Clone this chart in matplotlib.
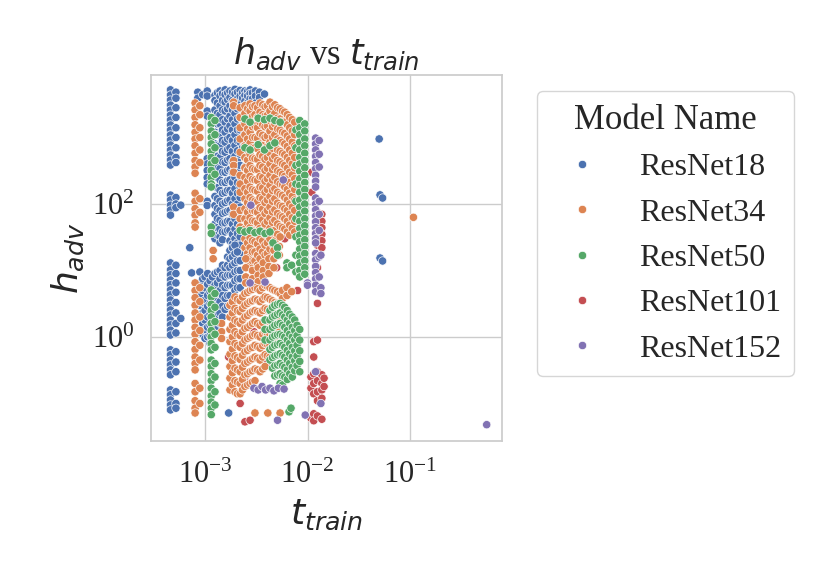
import numpy as np
import pandas as pd
import seaborn as sns
from matplotlib import pyplot as plt

model_names = ['ResNet18', 'ResNet34', 'ResNet50', 'ResNet101', 'ResNet152']

# columns of (t_train, [h_adv ...])
r18_cols = [
    (4.6e-4, [5200, 4350, 3650, 3070, 2580, 2170, 1830, 1540, 1290, 1090, 915, 770, 645, 545, 457, 385,
              136, 115, 96, 81, 68,
              13, 10.2, 8.6, 7.2, 6.1, 5.1, 4.3, 3.6, 3.0, 2.55, 2.14, 1.8, 1.52, 1.27, 1.07,
              0.64, 0.54, 0.45, 0.38, 0.32, 0.27, 0.16, 0.135, 0.113, 0.095, 0.080]),
    (5.2e-4, [4800, 3900, 2800, 2000, 1400, 1000, 700, 500, 420, 125, 100, 88,
              12, 9, 6.5, 4.7, 3.3, 2.3, 1.6, 1.15, 0.6, 0.42, 0.3, 0.15, 0.1, 0.085]),
    (5.8e-4, [96, 1.9]),
    (7.1e-4, [22]),
    (7.4e-4, [9.2]),
    (8.5e-4, [4800, 3900]),
    (9.5e-4, [4400]),
    (1.05e-3, [5000, 4200, 2500, 2100, 480, 400, 320, 250, 200, 110, 95]),
    (1.25e-3, [4300, 3600, 2600, 1800, 1200, 800, 550, 380, 260, 180, 130, 95, 70, 50, 38, 30]),
    (1.32e-3, [4700, 3300, 2300, 1600, 1100, 760, 520, 360, 250, 175, 120, 85, 60, 44, 34]),
    (1.4e-3, [5000, 4200, 3000, 2200, 1600, 1100, 750, 500, 340, 230, 160, 110, 80, 57, 42, 32, 26]),
    (1.48e-3, [4600, 3600, 2600, 1850, 1300, 900, 620, 430, 300, 210, 145, 100, 72, 52, 38, 29]),
    (1.57e-3, [5200, 4400, 3400, 2500, 1700, 1200, 850, 600, 420, 300, 210, 150, 105, 75, 52, 38]),
    (1.66e-3, [4700, 3700, 2700, 1900, 1350, 950, 660, 460, 320, 225, 160, 112, 78, 55, 40]),
    (1.75e-3, [5000, 4000, 3000, 2100, 1500, 1000, 700, 480, 330, 230, 160, 115, 80, 55, 40, 28]),
    (1.85e-3, [4800, 3600, 2600, 1850, 1300, 900, 620, 430, 300, 210, 145, 100, 70, 50, 35, 25]),
    (1.96e-3, [5300, 4500, 3300, 2300, 1600, 1100, 760, 520, 360, 250, 170, 120, 85, 60, 42, 30, 22, 17]),
    (2.07e-3, [4800, 3800, 2700, 1900, 1300, 900, 630, 440, 300, 210, 145, 100, 72, 50, 36, 26, 19]),
    (2.2e-3, [5100, 4200, 3100, 2000, 1300, 850, 560, 380, 260, 180, 125, 90, 62, 45, 32, 24, 18, 14]),
    (2.32e-3, [4700, 3900, 2900, 2100, 1500, 1000, 700]),
    (2.45e-3, [5000, 4300, 3500, 2600, 1800, 1200, 800, 540, 360]),
    (2.6e-3, [4900, 4200, 3300, 2400]),
    (2.75e-3, [5200, 4600, 3800, 2900, 2000]),
    (2.9e-3, [4700, 3800]),
    (3.1e-3, [5000, 4200, 3300]),
    (3.4e-3, [4800, 4000]),
    (3.8e-3, [4500]),
    (8.9e-4, [9.5, 6.5, 4.3, 3.0, 2.2]),
    (9.5e-4, [7.5, 5.0, 3.3, 2.3, 1.6, 1.1]),
    (1.0e-3, [8.0, 5.5, 3.6, 2.5, 1.8, 1.3, 0.95]),
    (1.06e-3, [9.0, 6.2, 4.2, 2.9, 2.0, 1.4, 1.0]),
    (1.12e-3, [7.0, 4.8, 3.2, 2.2, 1.5, 1.05, 0.8]),
    (1.18e-3, [8.0, 5.5, 3.7, 2.5, 1.7, 1.2]),
    (1.25e-3, [9.0, 6.0, 4.0, 2.7, 1.9, 1.3]),
    (1.32e-3, [9.5, 6.5, 4.5, 3.0, 2.1, 1.45]),
    (1.4e-3, [10, 7.5, 5.0, 3.4, 2.3, 1.6]),
    (1.48e-3, [12, 8.5, 6.0, 4.2, 2.9, 2.0]),
    (1.57e-3, [11, 8.0, 5.5, 3.8, 2.6]),
    (1.66e-3, [16, 12, 8.5, 6.0, 4.2, 2.9]),
    (1.75e-3, [20, 15, 11, 8.5, 6.0, 4.2, 3.0]),
    (1.85e-3, [22, 16, 12, 8.5, 6.0]),
    (1.96e-3, [24, 18, 13, 9.5, 7.0, 5.0]),
    (2.07e-3, [19, 14, 10, 7.5, 5.5]),
    (2.2e-3, [14, 10, 7.5, 5.5]),
    (1.7e-3, [0.072]),
    (0.050, [950]),
    (0.051, [137, 15.4]),
    (0.054, [123, 13.9]),
]

r34_cols = [
    (8.0e-4, [3300, 2600, 2000, 1550, 1200, 950, 750, 580, 450, 360, 290, 145, 110, 85, 68, 52, 45,
              6.5, 5.0, 3.9, 3.0, 2.3, 1.8, 1.4, 1.1, 0.85, 0.65, 0.5, 0.4, 0.32,
              0.2, 0.15, 0.11, 0.085, 0.072]),
    (8.9e-4, [3000, 2200, 1400, 1000, 650, 420, 120, 75, 5.5, 3.4, 2.0, 1.25, 0.75, 0.45, 0.17, 0.1]),
    (1.2e-3, [20, 15]),
    (1.45e-3, [1.6, 1.2, 0.95]),
    (1.9e-3, [3400, 3000, 450, 380, 300, 90, 70]),
    (2.2e-3, [2800, 2000, 1400, 950, 600, 270, 200, 150, 80, 60, 45]),
    (2.45e-3, [3000, 2300, 1600, 1100, 750, 500, 350, 250, 170, 120, 85, 60, 42, 30, 22]),
    (2.6e-3, [2700, 1900, 1350, 950, 660, 460, 320, 220, 150, 105, 75, 52, 37, 26, 18]),
    (2.75e-3, [3200, 2500, 1700, 1200, 820, 560, 380, 260, 180, 125, 90, 62, 44, 31, 22, 16, 12]),
    (2.9e-3, [2900, 2050, 1450, 1000, 700, 490, 340, 235, 165, 115, 80, 56, 40, 28, 19, 14]),
    (3.07e-3, [3000, 2200, 1500, 1000, 700, 480, 330, 230, 160, 110, 78, 55, 38, 27, 19, 14, 10]),
    (3.25e-3, [2800, 2000, 1400, 970, 680, 470, 330, 225, 155, 108, 75, 52, 36, 25, 17, 12]),
    (3.44e-3, [3300, 2400, 1700, 1150, 800, 550, 380, 260, 180, 125, 88, 62, 43, 30, 21, 15]),
    (3.65e-3, [3100, 2200, 1550, 1080, 750, 520, 360, 250, 175, 120, 84, 58, 40, 28, 19]),
    (3.85e-3, [2900, 2100, 1450, 1000, 680, 470, 320, 220, 150, 105, 72, 50, 35, 24, 17]),
    (4.05e-3, [3000, 2150, 1500, 1050, 720, 500, 345, 240, 165, 115, 80, 55, 38, 26, 18]),
    (4.3e-3, [3400, 2500, 1800, 1250, 850, 580, 400, 270, 190, 130, 90, 62, 43, 30, 21]),
    (4.55e-3, [2900, 2050, 1450, 1000, 690, 480, 330, 230, 160, 110, 76, 53, 37, 25]),
    (4.8e-3, [3100, 2300, 1600, 1100, 760, 520, 360, 250, 170, 120, 82, 57, 40, 28]),
    (5.1e-3, [2800, 1950, 1350, 950, 650, 450, 315, 215, 150, 103, 72, 50, 35]),
    (5.4e-3, [2700, 1900, 1300, 900, 620, 430, 300, 200, 140, 95, 66, 46, 32]),
    (5.7e-3, [2500, 1750, 1200, 850, 580, 400, 280, 195, 135, 92, 64, 44]),
    (6.0e-3, [2400, 1700, 1150, 800, 550, 380, 260, 180, 125, 85, 60, 42]),
    (6.35e-3, [2200, 1550, 1050, 730, 500, 345, 240, 165, 115, 80, 55, 38]),
    (6.7e-3, [2000, 1400, 950, 650, 450, 300, 210, 145, 100, 70, 48, 34]),
    (7.1e-3, [1850, 1250, 850, 580, 400, 275, 190, 130, 90, 62, 43]),
    (7.5e-3, [1700, 1100, 750, 500, 350, 240, 165, 115, 80, 55, 38]),
    (2.5e-3, [15, 11, 8, 6.5]),
    (2.9e-3, [10, 7.5, 6.2]),
    (3.3e-3, [11, 8.5, 6.8]),
    (3.7e-3, [13, 10, 8]),
    (4.2e-3, [15, 11.5, 9]),
    (4.7e-3, [20, 15, 11]),
    (5.3e-3, [23, 17]),
    (1.75e-3, [3.0, 2.0, 1.3, 0.85, 0.55, 0.36, 0.24, 0.16]),
    (1.85e-3, [3.4, 2.3, 1.5, 1.0, 0.66, 0.44, 0.29, 0.19]),
    (1.96e-3, [4.0, 2.7, 1.8, 1.2, 0.8, 0.52, 0.34, 0.22, 0.15]),
    (2.07e-3, [3.7, 2.5, 1.7, 1.1, 0.74, 0.49, 0.32, 0.21, 0.14]),
    (2.2e-3, [3.5, 2.4, 1.6, 1.05, 0.7, 0.46, 0.3, 0.2, 0.14]),
    (2.32e-3, [4.0, 2.7, 1.8, 1.2, 0.8, 0.53, 0.35, 0.23, 0.16]),
    (2.45e-3, [4.5, 3.0, 2.0, 1.35, 0.9, 0.6, 0.4, 0.27, 0.18]),
    (2.6e-3, [4.7, 3.2, 2.1, 1.4, 0.95, 0.63, 0.42, 0.28, 0.19]),
    (2.75e-3, [5.0, 3.4, 2.3, 1.5, 1.0, 0.68, 0.45, 0.3, 0.2]),
    (2.9e-3, [5.2, 3.5, 2.4, 1.6, 1.05, 0.7, 0.47, 0.31, 0.21]),
    (3.07e-3, [5.5, 3.7, 2.5, 1.7, 1.1, 0.75, 0.5, 0.33, 0.22]),
    (3.25e-3, [5.3, 3.6, 2.4, 1.6, 1.05, 0.72, 0.48, 0.32]),
    (3.44e-3, [5.0, 3.4, 2.3, 1.5, 1.0, 0.68, 0.45, 0.3]),
    (3.65e-3, [5.5, 3.7, 2.5, 1.65, 1.1, 0.74, 0.5, 0.33]),
    (3.85e-3, [6.0, 4.0, 2.7, 1.8, 1.2, 0.8, 0.54, 0.36]),
    (4.05e-3, [5.8, 3.9, 2.6, 1.75, 1.15, 0.78, 0.52]),
    (4.3e-3, [5.5, 3.7, 2.5, 1.7, 1.1, 0.75, 0.5]),
    (4.55e-3, [5.2, 3.5, 2.35, 1.6, 1.05, 0.7]),
    (4.8e-3, [5.0, 3.3, 2.2, 1.5, 1.0]),
    (5.1e-3, [4.8, 3.2, 2.1, 1.4]),
    (5.4e-3, [4.5, 3.0, 2.0]),
    (5.7e-3, [5.0, 3.8]),
    (6.3e-3, [5.5, 4.2]),
    (7.0e-3, [4.8]),
    (3.07e-3, [0.072]),
    (4.1e-3, [0.072]),
    (5.4e-3, [0.072]),
    (0.108, [63]),
]

r50_cols = [
    (1.15e-3, [2000, 1600, 1250, 1000, 800, 620, 500, 400, 320, 250, 200, 180, 45, 36,
               5.1, 4.0, 3.1, 2.5, 2.0, 1.6, 1.25, 1.0, 0.8, 0.64,
               0.45, 0.36, 0.28, 0.22, 0.17, 0.13, 0.105, 0.085, 0.068]),
    (1.25e-3, [1800, 1100, 700, 450, 280, 4.5, 2.8, 1.7, 1.1, 0.7, 0.4, 0.25, 0.15, 0.095]),
    (2.45e-3, [1900, 700]),
    (2.75e-3, [1700, 650]),
    (3.3e-3, [1950, 780]),
    (3.8e-3, [1850, 650]),
    (4.3e-3, [1950, 750]),
    (4.8e-3, [1800, 830]),
    (5.4e-3, [1700]),
    (2.2e-3, [40]),
    (2.45e-3, [38]),
    (2.75e-3, [40]),
    (3.07e-3, [37]),
    (3.44e-3, [39]),
    (3.85e-3, [36]),
    (4.3e-3, [38]),
    (4.6e-3, [26]),
    (5.1e-3, [22, 17]),
    (6.3e-3, [13, 11]),
    (7.0e-3, [12]),
    (7.7e-3, [1300, 700, 380, 200, 110, 60, 32, 17, 9.5]),
    (8.4e-3, [1800, 1400, 1100, 850, 650, 500, 400, 310, 240, 190, 150, 115, 90, 70, 55, 43, 34,
              27, 21, 16.5, 13, 10, 8]),
    (9.4e-3, [1600, 1250, 950, 750, 580, 450, 350, 270, 210, 165, 130, 100, 78, 60, 47, 37, 29,
              23, 18, 14, 11, 8.8]),
    (3.85e-3, [1.8, 1.3, 0.9]),
    (4.3e-3, [2.5, 1.8, 1.3, 0.9, 0.65, 0.45]),
    (4.55e-3, [2.8, 2.0, 1.4, 1.0, 0.7, 0.49, 0.34]),
    (4.8e-3, [3.0, 2.1, 1.5, 1.05, 0.75, 0.52, 0.37, 0.26]),
    (5.1e-3, [3.1, 2.2, 1.55, 1.08, 0.77, 0.54, 0.38, 0.27]),
    (5.4e-3, [3.2, 2.3, 1.6, 1.1, 0.8, 0.56, 0.4, 0.28, 0.2]),
    (5.7e-3, [3.0, 2.15, 1.5, 1.05, 0.75, 0.53, 0.37, 0.26, 0.19]),
    (6.0e-3, [2.8, 2.0, 1.4, 1.0, 0.7, 0.5, 0.35, 0.25]),
    (6.35e-3, [2.5, 1.8, 1.25, 0.9, 0.63, 0.45, 0.32, 0.23]),
    (6.7e-3, [2.2, 1.6, 1.1, 0.8, 0.56, 0.4, 0.28]),
    (7.1e-3, [2.0, 1.4, 1.0, 0.7, 0.5, 0.35, 0.25]),
    (7.5e-3, [1.8, 1.25, 0.9, 0.62, 0.44, 0.31]),
    (7.9e-3, [1.5, 1.05, 0.75, 0.52, 0.37]),
    (8.4e-3, [1.3, 0.9, 0.62, 0.43, 0.3]),
    (6.6e-3, [0.075]),
    (6.9e-3, [0.085]),
]

r101_cols = [
    (1.08e-2, [0.25, 0.17, 0.06]),
    (1.1e-2, [300, 150]),
    (1.15e-2, [0.85, 0.5, 0.28, 0.2, 0.14, 0.07, 0.055]),
    (1.25e-2, [75, 60, 48, 38, 30, 24, 11, 3.2, 0.9, 0.3, 0.22, 0.15, 0.11, 0.065]),
    (1.38e-2, [70, 55, 44, 35, 28, 22, 0.27, 0.2, 0.16, 0.12, 0.058]),
    (1.45e-2, [0.24, 0.18]),
    (2.2e-3, [10, 0.3, 0.1]),
    (2.45e-3, [0.25, 0.053]),
    (2.75e-3, [0.056]),
    (5.0e-3, [11]),
    (3.0e-3, [50, 8, 1.2]),
    (4.0e-3, [120, 2.5, 0.4]),
    (6.0e-3, [30, 1.5]),
    (8.0e-3, [60, 5, 0.8]),
    (9.0e-3, [200, 20]),
    (1.7e-3, [3.0, 0.5]),
]

r152_cols = [
    (1.2e-2, [980, 800, 650, 520, 420, 340, 270, 220, 180, 123, 100, 82, 66, 54, 44, 36, 30, 26,
              18, 14.5, 11.5, 9.3, 7.5, 6.0, 4.8, 0.3]),
    (1.3e-2, [900, 560, 360, 110, 70, 40, 16, 8]),
    (1.35e-2, [17, 5.5, 4.5, 0.1]),
    (2.8e-3, [96]),
    (5.8e-3, [230]),
    (2.75e-3, [6.5]),
    (3.85e-3, [6.7]),
    (1.0e-2, [6.5, 6.0]),
    (3.0e-3, [0.17]),
    (3.3e-3, [0.16]),
    (3.6e-3, [0.18]),
    (3.9e-3, [0.16]),
    (4.3e-3, [0.17]),
    (4.7e-3, [0.155]),
    (5.2e-3, [0.17]),
    (5.9e-3, [0.165]),
    (9.5e-3, [0.067]),
    (5.1e-3, [0.056]),
    (0.56, [0.048]),
]

series = {'ResNet18': r18_cols, 'ResNet34': r34_cols, 'ResNet50': r50_cols,
          'ResNet101': r101_cols, 'ResNet152': r152_cols}
# red sits mostly underneath the others in the picture
draw_order = ['ResNet101', 'ResNet18', 'ResNet34', 'ResNet50', 'ResNet152']

rows = []
for name in draw_order:
    for t, hs in series[name]:
        for h in hs:
            rows.append((t, h, name))
df = pd.DataFrame(rows, columns=['t_train', 'h_adv', 'Model Name'])

sns.set_theme(style='whitegrid')
plt.rcParams['font.family'] = ['Liberation Serif', 'DejaVu Sans']
plt.rcParams['mathtext.fontset'] = 'dejavusans'

fig = plt.figure(figsize=(8.31, 5.76), dpi=100)
ax = fig.add_axes([0.1817, 0.2344, 0.4224, 0.6354])
sns.scatterplot(data=df, x='t_train', y='h_adv', hue='Model Name', hue_order=model_names, ax=ax)
ax.set_xscale('log')
ax.set_yscale('log')
ax.set_xlim(2.97e-4, 0.79)
ax.set_ylim(0.0273, 8700)
ax.set_yticks([1, 100])
ax.minorticks_off()
ax.tick_params(labelsize=22)
ax.tick_params(axis='x', pad=8)
ax.tick_params(axis='y', pad=6)
ax.set_xlabel('$t_{train}$', fontsize=26, labelpad=6)
ax.set_ylabel('$h_{adv}$', fontsize=26)
ax.set_title('$h_{adv}$ vs $t_{train}$', fontsize=25, pad=8)

sns.move_legend(ax, 'upper left', bbox_to_anchor=(1.10, 0.956), borderaxespad=0,
                title='Model Name', fontsize=23, title_fontsize=25, frameon=True,
                labelspacing=0.5)

fig.savefig('out.png', dpi=100)
